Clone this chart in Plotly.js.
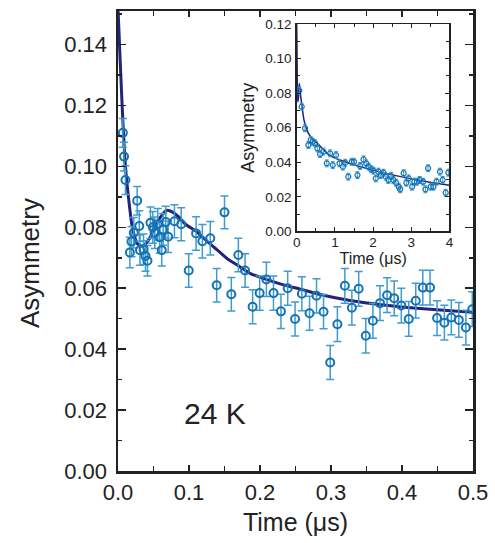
<!DOCTYPE html>
<html>
<head>
<meta charset="utf-8">
<script src="https://cdn.plot.ly/plotly-3.0.1.min.js"></script>
<style>html,body{margin:0;padding:0;background:#fff;}#chart{width:495px;height:543px;}</style>
</head>
<body>
<div id="chart"></div>
<script>
// Main panel: measured asymmetry (0 - 0.5 us)
const mainTime = [0.0068,0.0085,0.0105,0.0167,0.019,0.0222,0.027,0.030,0.031,0.036,0.0387,0.0415,0.0457,0.049,0.0518,0.056,0.0588,0.0616,0.0636,0.0672,0.0706,0.0795,0.089,
  0.0996,0.110,0.1188,0.130,0.139,0.150,0.1596,0.1695,0.179,0.1896,0.1995,0.209,0.219,0.2295,0.239,0.2494,0.259,0.2698,0.2796,0.2895,0.2989,0.309,0.3195,0.3294,0.339,0.349,0.359,0.369,0.379,0.389,0.399,0.4095,0.4194,0.4293,0.4395,0.4494,0.4597,0.4695,0.480,0.490,0.499];
const mainAsym = [0.111,0.1032,0.0955,0.0717,0.0753,0.0782,0.0887,0.0804,0.0725,0.0728,0.0706,0.069,0.0815,0.080,0.0782,0.081,0.0767,0.0725,0.0793,0.0817,0.0769,0.082,0.081,
  0.0658,0.078,0.0754,0.0764,0.061,0.0849,0.058,0.0709,0.0658,0.0539,0.0584,0.0629,0.0584,0.0524,0.060,0.0499,0.0582,0.0518,0.0575,0.0523,0.0356,0.0482,0.0608,0.0536,0.0598,0.0444,0.0493,0.0551,0.0577,0.0567,0.0543,0.0499,0.0559,0.0602,0.0602,0.0502,0.0487,0.0504,0.0496,0.0471,0.0531];
const mainErr = [0.0047,0.0047,0.0047,0.005,0.005,0.005,0.0047,0.005,0.005,0.005,0.005,0.005,0.0052,0.0052,0.0052,0.0052,0.0052,0.0052,0.0052,0.0052,0.0052,0.0054,0.0054,
  0.0055,0.0055,0.0055,0.0055,0.0055,0.0054,0.0055,0.0055,0.0055,0.0056,0.0056,0.0056,0.0056,0.0056,0.0056,0.0056,0.0056,0.0056,0.0056,0.0056,0.0056,0.0057,0.0057,0.0057,0.0057,0.0057,0.0057,0.0057,0.0057,0.0057,0.0057,0.0057,0.0057,0.0057,0.0057,0.0057,0.0057,0.0057,0.0057,0.0057,0.0057];
// Main panel: fit curve
const fitTime = [0,0.003,0.0068,0.0105,0.0152,0.020,0.027,0.034,0.040,0.0457,0.053,0.060,0.069,0.077,0.085,0.095,0.111,0.125,0.140,0.155,0.172,0.186,0.210,0.233,0.257,0.280,0.327,0.374,0.421,0.468,0.500];
const fitAsym = [0.152,0.135,0.115,0.0998,0.0889,0.0802,0.0747,0.0738,0.0748,0.0769,0.0805,0.0834,0.0856,0.085,0.0835,0.081,0.0785,0.0755,0.0725,0.0695,0.067,0.0649,0.0628,0.0611,0.0597,0.0582,0.056,0.0545,0.0534,0.0526,0.0521];

// Inset: full time window (0 - 4 us)
const insetTime = [0.068,0.131,0.218,0.305,0.367,0.42,0.48,0.54,0.612,0.70,0.787,0.874,0.944,1.03,1.12,1.21,1.27,1.35,1.44,1.50,1.59,1.66,1.75,1.82,1.88,1.95,2.01,2.07,2.14,2.20,2.27,2.33,2.40,2.47,2.53,2.60,2.67,2.71,2.80,2.87,2.93,3.02,3.08,3.15,3.22,3.31,3.37,3.44,3.51,3.58,3.66,3.75,3.82,3.90,3.97];
const insetAsym = [0.0815,0.0722,0.0597,0.050,0.0529,0.0519,0.051,0.0481,0.0448,0.0462,0.0394,0.0452,0.0384,0.0442,0.0394,0.0375,0.0398,0.0317,0.0403,0.0403,0.0326,0.0379,0.0417,0.0394,0.0375,0.036,0.0352,0.0307,0.0346,0.0326,0.034,0.0317,0.0298,0.0321,0.0298,0.0282,0.0259,0.0244,0.0337,0.0282,0.0307,0.0259,0.0288,0.0288,0.0298,0.0288,0.0244,0.0366,0.0259,0.0259,0.0288,0.0346,0.0298,0.0224,0.034];
const insetErr = [0.002,0.002,0.002,0.002,0.002,0.002,0.002,0.002,0.002,0.002,0.002,0.002,0.002,0.002,0.002,0.002,0.002,0.002,0.002,0.002,0.002,0.002,0.002,0.002,0.002,0.002,0.002,0.002,0.002,0.002,0.002,0.002,0.002,0.002,0.002,0.002,0.002,0.002,0.002,0.002,0.002,0.002,0.002,0.002,0.002,0.002,0.002,0.002,0.002,0.002,0.002,0.002,0.002,0.002,0.002];
const insetFitTime = [0,0.01,0.02,0.03,0.045,0.07,0.1,0.2,0.3,0.4,0.5,0.8,1.0,1.66,2.53,3.41,4.0];
const insetFitAsym = [0.12,0.1,0.08,0.075,0.077,0.0856,0.079,0.0635,0.057,0.0538,0.052,0.045,0.0425,0.0375,0.0326,0.0288,0.0268];

const tickLabels = ['0.0','0.1','0.2','0.3','0.4','0.5'];
const tickVals = [0,0.1,0.2,0.3,0.4,0.5];
const tempLabel = '24 K';
const yTitle = 'Asymmetry';

const dataColor = '#1673b2';
const errColor = '#3f9bd1';
const fitColor = '#23237a';
const axisColor = '#222222';
const font = '"Liberation Sans", Arial, sans-serif';

const traces = [
  {x: fitTime, y: fitAsym, type: 'scatter', mode: 'lines', line: {color: fitColor, width: 3, shape: 'spline', smoothing: 0.6}, xaxis: 'x', yaxis: 'y', hoverinfo: 'skip'},
  {x: mainTime, y: mainAsym, type: 'scatter', mode: 'markers', xaxis: 'x', yaxis: 'y',
   marker: {symbol: 'circle-open', size: 8, color: dataColor, line: {width: 2, color: dataColor}},
   error_y: {type: 'data', array: mainErr, visible: true, color: errColor, thickness: 1.5, width: 4}},
  {x: insetFitTime, y: insetFitAsym, type: 'scatter', mode: 'lines', line: {color: fitColor, width: 1.5, shape: 'spline', smoothing: 0.5}, xaxis: 'x2', yaxis: 'y2', hoverinfo: 'skip'},
  {x: insetTime, y: insetAsym, type: 'scatter', mode: 'markers', xaxis: 'x2', yaxis: 'y2',
   marker: {symbol: 'circle-open', size: 5, color: dataColor, line: {width: 1.2, color: dataColor}},
   error_y: {type: 'data', array: insetErr, visible: true, color: errColor, thickness: 1, width: 2}}
];

const layout = {
  width: 495, height: 543,
  margin: {l: 118, r: 22, t: 11, b: 72},
  paper_bgcolor: '#fff', plot_bgcolor: '#fff',
  showlegend: false,
  font: {family: font, color: axisColor},
  xaxis: {
    domain: [0, 1], range: [0, 0.5], tickvals: tickVals, ticktext: tickLabels,
    ticks: 'inside', ticklen: 6, tickwidth: 1.5, tickcolor: axisColor,
    minor: {dtick: 0.05, tick0: 0, ticks: 'inside', ticklen: 5, tickwidth: 1.5, tickcolor: axisColor},
    showline: true, linewidth: 2.5, linecolor: axisColor, mirror: 'ticks',
    showgrid: false, zeroline: false,
    tickfont: {size: 22, family: font, color: axisColor}, ticklabelstandoff: 0,
    title: {text: 'Time (μs)', font: {size: 25, family: font, color: axisColor}, standoff: 10},
    automargin: false
  },
  yaxis: {
    domain: [0, 1], range: [0, 0.151], dtick: 0.02, tick0: 0, tickformat: '.2f',
    ticks: 'inside', ticklen: 8, tickwidth: 1.5, tickcolor: axisColor,
    minor: {dtick: 0.01, tick0: 0, ticks: 'inside', ticklen: 4, tickwidth: 1.5, tickcolor: axisColor},
    showline: true, linewidth: 2.5, linecolor: axisColor, mirror: 'ticks',
    showgrid: false, zeroline: false,
    tickfont: {size: 22, family: font, color: axisColor}, ticklabelstandoff: 4,
    automargin: false
  },
  xaxis2: {
    domain: [0.5034, 0.9338], range: [0, 4], dtick: 1, tick0: 0, anchor: 'y2',
    ticks: 'inside', ticklen: 4, tickwidth: 1, tickcolor: axisColor,
    minor: {dtick: 0.5, tick0: 0, ticks: 'inside', ticklen: 3, tickwidth: 1, tickcolor: axisColor},
    showline: true, linewidth: 1.5, linecolor: axisColor, mirror: 'ticks',
    showgrid: false, zeroline: false,
    tickfont: {size: 13.5, family: font, color: axisColor}, ticklabelstandoff: -2,
    title: {text: 'Time (μs)', font: {size: 16, family: font, color: axisColor}, standoff: 0},
    automargin: false
  },
  yaxis2: {
    domain: [0.5207, 0.9717], range: [0, 0.12], dtick: 0.02, tick0: 0, tickformat: '.2f', anchor: 'x2',
    ticks: 'inside', ticklen: 4, tickwidth: 1, tickcolor: axisColor,
    minor: {dtick: 0.01, tick0: 0, ticks: 'inside', ticklen: 3, tickwidth: 1, tickcolor: axisColor},
    showline: true, linewidth: 1.5, linecolor: axisColor, mirror: 'ticks',
    showgrid: false, zeroline: false,
    tickfont: {size: 13.5, family: font, color: axisColor}, ticklabelstandoff: 1,
    title: {text: 'Asymmetry', font: {size: 18, family: font, color: axisColor}, standoff: 6},
    automargin: false
  },
  annotations: [
    {x: 0.136, y: 0.0188, xref: 'x', yref: 'y', text: tempLabel, showarrow: false,
     font: {size: 30, family: font, color: axisColor}, xanchor: 'center', yanchor: 'middle'},
    {x: -0.248, y: 0.452, xref: 'paper', yref: 'paper', text: yTitle, textangle: -90, showarrow: false,
     font: {size: 26, family: font, color: axisColor}, xanchor: 'center', yanchor: 'middle'}
  ]
};

Plotly.newPlot('chart', traces, layout, {displayModeBar: false, staticPlot: true});
</script>
</body>
</html>
